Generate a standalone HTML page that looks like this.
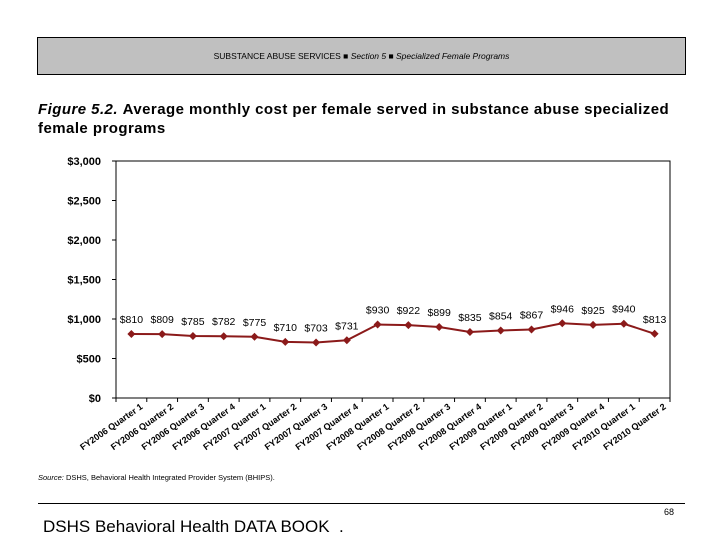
<!DOCTYPE html>
<html><head><meta charset="utf-8"><style>
body{margin:0;width:720px;height:540px;background:#fff;font-family:"Liberation Sans",sans-serif;position:relative;overflow:hidden}
.hdr{position:absolute;left:37px;top:37px;width:647px;height:36px;background:#c0c0c0;border:1px solid #000;font-size:8.5px;text-align:center;line-height:36px}
.title{position:absolute;left:38px;top:100px;width:645px;font-size:15px;line-height:19px;color:#000;letter-spacing:0.45px}
.src{position:absolute;left:38px;top:473px;font-size:7.5px}
.rule{position:absolute;left:38px;top:503px;width:647px;border-top:1px solid #000}
.pg{position:absolute;left:664px;top:507px;font-size:9px}
.foot{position:absolute;left:43px;top:517px;font-size:17px}
</style></head><body>
<div class="hdr">SUBSTANCE ABUSE SERVICES &#9632; <i>Section 5</i> &#9632; <i>Specialized Female Programs</i></div>
<div class="title"><b><i>Figure 5.2.</i></b> <b>Average monthly cost per female served in substance abuse specialized female programs</b></div>
<svg id="chart" width="720" height="540" style="position:absolute;left:0;top:0"></svg>
<div class="src"><i>Source:</i> DSHS, Behavioral Health Integrated Provider System (BHIPS).</div>
<div class="rule"></div>
<div class="pg">68</div>
<div class="foot">DSHS Behavioral Health DATA BOOK &nbsp;.</div>
<script>
const categories=["FY2006 Quarter 1","FY2006 Quarter 2","FY2006 Quarter 3","FY2006 Quarter 4","FY2007 Quarter 1","FY2007 Quarter 2","FY2007 Quarter 3","FY2007 Quarter 4","FY2008 Quarter 1","FY2008 Quarter 2","FY2008 Quarter 3","FY2008 Quarter 4","FY2009 Quarter 1","FY2009 Quarter 2","FY2009 Quarter 3","FY2009 Quarter 4","FY2010 Quarter 1","FY2010 Quarter 2"];
const values=[810,809,785,782,775,710,703,731,930,922,899,835,854,867,946,925,940,813];
const yTicks=[0,500,1000,1500,2000,2500,3000];
const yTickLabels=["$0","$500","$1,000","$1,500","$2,000","$2,500","$3,000"];
const svg=document.getElementById('chart');const NS='http://www.w3.org/2000/svg';
const L=116,R=670,T=161,B=398,yMax=3000;
const y=v=>B-(v/yMax)*(B-T);
const bw=(R-L)/categories.length;
const x=i=>L+bw*(i+0.5);
function mk(t,a,p){const e=document.createElementNS(NS,t);for(const k in a)e.setAttribute(k,a[k]);(p||svg).appendChild(e);return e;}
let e=mk('rect',{x:L,y:T,width:R-L,height:B-T,fill:'none',stroke:'#000','stroke-width':1});


yTicks.forEach((v,i)=>{
 mk('line',{x1:L-4,x2:L,y1:y(v),y2:y(v),stroke:'#000'});
 const t=mk('text',{x:L-15,y:y(v)+4,'text-anchor':'end','font-size':11,'font-weight':'bold','font-family':'Liberation Sans, sans-serif'});
 t.textContent=yTickLabels[i];
 
 
});
for(let i=0;i<=categories.length;i++) mk('line',{x1:L+bw*i,x2:L+bw*i,y1:B,y2:B+4,stroke:'#000'});
categories.forEach((c,i)=>{
 const t=mk('text',{x:x(i)+12,y:B+10,'text-anchor':'end','font-size':9,'font-weight':'bold','font-family':'Liberation Sans, sans-serif',transform:`rotate(-35 ${x(i)+12} ${B+10})`});
 t.textContent=c;
 
 
});
const pl=mk('polyline',{points:values.map((v,i)=>x(i)+','+y(v)).join(' '),fill:'none',stroke:'#8b1a1a','stroke-width':2});


values.forEach((v,i)=>{
 const cx=x(i),cy=y(v);
 const m=mk('polygon',{points:`${cx},${cy-4} ${cx+4},${cy} ${cx},${cy+4} ${cx-4},${cy}`,fill:'#8b1a1a'});
 
 
 const t=mk('text',{x:cx,y:cy-11,'text-anchor':'middle','font-size':10.5,'font-family':'Liberation Sans, sans-serif'});
 t.textContent='$'+v;
 
 
});
</script>
</body></html>
